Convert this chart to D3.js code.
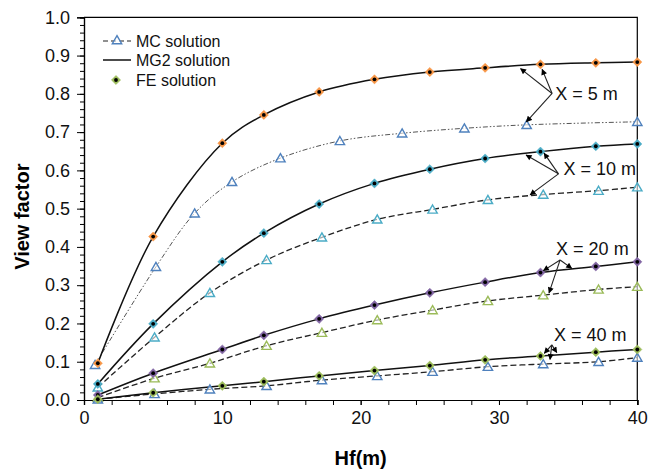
<!DOCTYPE html>
<html><head><meta charset="utf-8">
<script src="https://cdn.jsdelivr.net/npm/d3@7"></script>
<style>
html,body{margin:0;padding:0;background:#fff;}
text{font-family:Arial,"Liberation Sans",sans-serif;}
</style></head>
<body>
<svg id="chart" width="648" height="473"></svg>
<script>
// ---------- data ----------
const hfFE = [1, 5, 10, 13, 17, 21, 25, 29, 33, 37, 40];
const feX5  = [0.096, 0.427, 0.671, 0.745, 0.805, 0.838, 0.857, 0.868, 0.877, 0.881, 0.883];
const feX10 = [0.042, 0.199, 0.361, 0.436, 0.512, 0.566, 0.603, 0.631, 0.649, 0.663, 0.669];
const feX20 = [0.013, 0.070, 0.132, 0.169, 0.212, 0.248, 0.280, 0.308, 0.333, 0.349, 0.361];
const feX40 = [0.002, 0.019, 0.037, 0.048, 0.063, 0.077, 0.090, 0.105, 0.115, 0.125, 0.132];

const hfMG2 = [1, 5, 10, 13, 17, 21, 25, 29, 33, 37, 40];
const mg2X5  = [0.096, 0.427, 0.671, 0.745, 0.805, 0.838, 0.857, 0.868, 0.877, 0.881, 0.883];
const mg2X10 = [0.042, 0.199, 0.361, 0.436, 0.512, 0.566, 0.603, 0.631, 0.649, 0.663, 0.669];
const mg2X20 = [0.013, 0.070, 0.132, 0.169, 0.212, 0.248, 0.280, 0.308, 0.333, 0.349, 0.361];
const mg2X40 = [0.002, 0.019, 0.037, 0.048, 0.063, 0.077, 0.090, 0.105, 0.115, 0.125, 0.132];

const hfMC5 = [0.8, 5.2, 8, 10.7, 14.2, 18.5, 23, 27.5, 32, 40];
const mcX5  = [0.092, 0.348, 0.488, 0.570, 0.632, 0.677, 0.697, 0.710, 0.719, 0.727];
const hfMC  = [1, 5.1, 9.1, 13.2, 17.2, 21.2, 25.2, 29.2, 33.2, 37.2, 40];
const mcX10 = [0.033, 0.164, 0.280, 0.366, 0.425, 0.472, 0.498, 0.523, 0.537, 0.547, 0.556];
const mcX20 = [0.006, 0.057, 0.096, 0.142, 0.176, 0.209, 0.235, 0.259, 0.274, 0.289, 0.296];
const mcX40 = [0.002, 0.016, 0.028, 0.037, 0.052, 0.063, 0.074, 0.087, 0.094, 0.100, 0.111];

const xTicks = [0, 10, 20, 30, 40];
const yTicks = [0, 0.1, 0.2, 0.3, 0.4, 0.5, 0.6, 0.7, 0.8, 0.9, 1.0];
const legendLabels = ["MC solution", "MG2 solution", "FE solution"];
const annLabels = ["X = 5 m", "X = 10 m", "X = 20 m", "X = 40 m"];
// annotation anchor (text) and arrow targets in data units [Hf, view factor]
const annText   = [[34.06, 0.801], [34.66, 0.605], [34.13, 0.396], [33.98, 0.170]];
const annOrigin = [[33.84, 0.801], [34.30, 0.591], [34.42, 0.366], [33.82, 0.144]];
const annTargets = [
  [[31.56, 0.866], [33.12, 0.864], [31.98, 0.727]],
  [[31.96, 0.640], [33.26, 0.645], [32.25, 0.536]],
  [[33.21, 0.338], [35.26, 0.344], [33.62, 0.280]],
  [[33.28, 0.122], [34.18, 0.124], [33.69, 0.106]]
];

// ---------- layout ----------
const W = 648, H = 473;
const m = {left: 84, right: 10.7, top: 17.3, bottom: 73};
const svg = d3.select("#chart");
const x = d3.scaleLinear().domain([0, 40]).range([m.left, W - m.right]);
const y = d3.scaleLinear().domain([0, 1]).range([H - m.bottom, m.top]);

const C = {orange: "#F79646", aqua: "#4BACC6", purple: "#8064A2", green: "#9BBB59", blue: "#4F81BD"};

// frame (top & right)
svg.append("path")
  .attr("d", `M${x(0)},${y(1)}H${x(40)}V${y(0)}`)
  .attr("fill", "none").attr("stroke", "#000").attr("stroke-width", 1.2);

// y axis
const yAxisG = svg.append("g").attr("transform", `translate(${x(0)},0)`);
yAxisG.call(d3.axisLeft(y).tickValues(d3.range(0, 1.0001, 0.02)).tickSize(4).tickFormat(""));
yAxisG.call(g => g.append("g").call(d3.axisLeft(y).tickValues(yTicks).tickSize(7).tickFormat(d3.format(".1f"))));
yAxisG.selectAll("path.domain").attr("stroke-width", 1.2);
yAxisG.selectAll("line").attr("stroke-width", 1);
yAxisG.selectAll("text").attr("font-size", 18).attr("fill", "#111").attr("x", -14)
  .attr("font-family", "Arial, 'Liberation Sans', sans-serif");

// x axis
const xAxisG = svg.append("g").attr("transform", `translate(0,${y(0)})`);
xAxisG.call(d3.axisBottom(x).tickValues(d3.range(0, 40.001, 2)).tickSize(5).tickFormat(""));
xAxisG.call(g => g.append("g").call(d3.axisBottom(x).tickValues(xTicks).tickSize(5).tickFormat(d3.format("d"))));
xAxisG.selectAll("path.domain").attr("stroke-width", 1.2);
xAxisG.selectAll("line").attr("stroke-width", 1);
xAxisG.selectAll("text").attr("font-size", 18).attr("fill", "#111").attr("y", 11)
  .attr("font-family", "Arial, 'Liberation Sans', sans-serif");

// axis titles
svg.append("text").attr("x", (x(0) + x(40)) / 2).attr("y", 465)
  .attr("text-anchor", "middle").attr("font-size", 20).attr("font-weight", "bold").text("Hf(m)");
svg.append("text").attr("transform", `translate(29,${(y(0) + y(1)) / 2 + 8}) rotate(-90)`)
  .attr("text-anchor", "middle").attr("font-size", 20).attr("font-weight", "bold").text("View factor");

// ---------- series ----------
const zip = (xs, ys) => xs.map((v, i) => [v, ys[i]]);
const line = d3.line().x(d => x(d[0])).y(d => y(d[1])).curve(d3.curveCatmullRom.alpha(0.5));

const mcSeries = [
  {hf: hfMC5, v: mcX5, color: C.blue, dash: "5,2,1.5,2,1.5,2", stroke: "#555", w: 1},
  {hf: hfMC, v: mcX10, color: C.aqua, dash: "6,3", stroke: "#222", w: 1.3},
  {hf: hfMC, v: mcX20, color: C.green, dash: "6,3", stroke: "#222", w: 1.3},
  {hf: hfMC, v: mcX40, color: C.blue, dash: "6,3", stroke: "#222", w: 1.3}
];
const mg2Series = [mg2X5, mg2X10, mg2X20, mg2X40];
const feSeries = [
  {v: feX5, color: C.orange},
  {v: feX10, color: C.aqua},
  {v: feX20, color: C.purple},
  {v: feX40, color: C.green}
];

mcSeries.forEach(s => {
  svg.append("path").attr("d", line(zip(s.hf, s.v)))
    .attr("fill", "none").attr("stroke", s.stroke).attr("stroke-width", s.w)
    .attr("stroke-dasharray", s.dash);
});
mg2Series.forEach(v => {
  svg.append("path").attr("d", line(zip(hfMG2, v)))
    .attr("fill", "none").attr("stroke", "#111").attr("stroke-width", 1.5);
});

const tri = d3.symbol().type(d3.symbolTriangle).size(38);
const diaPath = "M0,-4.6L4.6,0L0,4.6L-4.6,0Z";
function drawTri(g, cx, cy, color) {
  g.append("path").attr("d", tri()).attr("transform", `translate(${cx},${cy + 1})`)
    .attr("fill", "#fff").attr("fill-opacity", 0.6).attr("stroke", color).attr("stroke-width", 1.4);
}
function drawFE(g, cx, cy, color) {
  g.append("path").attr("d", diaPath).attr("transform", `translate(${cx},${cy})`)
    .attr("fill", color).attr("stroke", color).attr("stroke-width", 1).attr("stroke-opacity", 0.5)
    .attr("stroke-linejoin", "round");
  g.append("circle").attr("cx", cx).attr("cy", cy).attr("r", 1.9).attr("fill", "#000");
}
mcSeries.forEach(s => {
  const g = svg.append("g");
  zip(s.hf, s.v).forEach(d => drawTri(g, x(d[0]), y(d[1]), s.color));
});
feSeries.forEach(s => {
  const g = svg.append("g");
  zip(hfFE, s.v).forEach(d => drawFE(g, x(d[0]), y(d[1]), s.color));
});

// ---------- annotations ----------
svg.append("defs").append("marker").attr("id", "ah")
  .attr("viewBox", "0 0 10 10").attr("refX", 9).attr("refY", 5)
  .attr("markerWidth", 7).attr("markerHeight", 6).attr("markerUnits", "userSpaceOnUse")
  .attr("orient", "auto")
  .append("path").attr("d", "M0,0L10,5L0,10z").attr("fill", "#000");

annLabels.forEach((lab, i) => {
  const o = annOrigin[i];
  annTargets[i].forEach(t => {
    svg.append("line").attr("x1", x(o[0])).attr("y1", y(o[1]))
      .attr("x2", x(t[0])).attr("y2", y(t[1]))
      .attr("stroke", "#222").attr("stroke-width", 1.1).attr("marker-end", "url(#ah)");
  });
  svg.append("text").attr("x", x(annText[i][0])).attr("y", y(annText[i][1]))
    .attr("dy", "0.35em").attr("font-size", 18).attr("fill", "#111").text(lab);
});

// ---------- legend ----------
const lg = svg.append("g");
const ly = [41, 60, 80];
lg.append("line").attr("x1", 103).attr("x2", 131).attr("y1", ly[0]).attr("y2", ly[0])
  .attr("stroke", "#222").attr("stroke-width", 1.2).attr("stroke-dasharray", "5,3");
drawTri(lg, 117, ly[0] - 1, C.blue);
lg.append("line").attr("x1", 103).attr("x2", 131).attr("y1", ly[1]).attr("y2", ly[1])
  .attr("stroke", "#111").attr("stroke-width", 1.5);
drawFE(lg, 116, ly[2], C.green);
legendLabels.forEach((t, i) => {
  lg.append("text").attr("x", 136).attr("y", ly[i]).attr("dy", "0.35em")
    .attr("font-size", 16).attr("fill", "#111").text(t);
});
</script>
</body></html>
